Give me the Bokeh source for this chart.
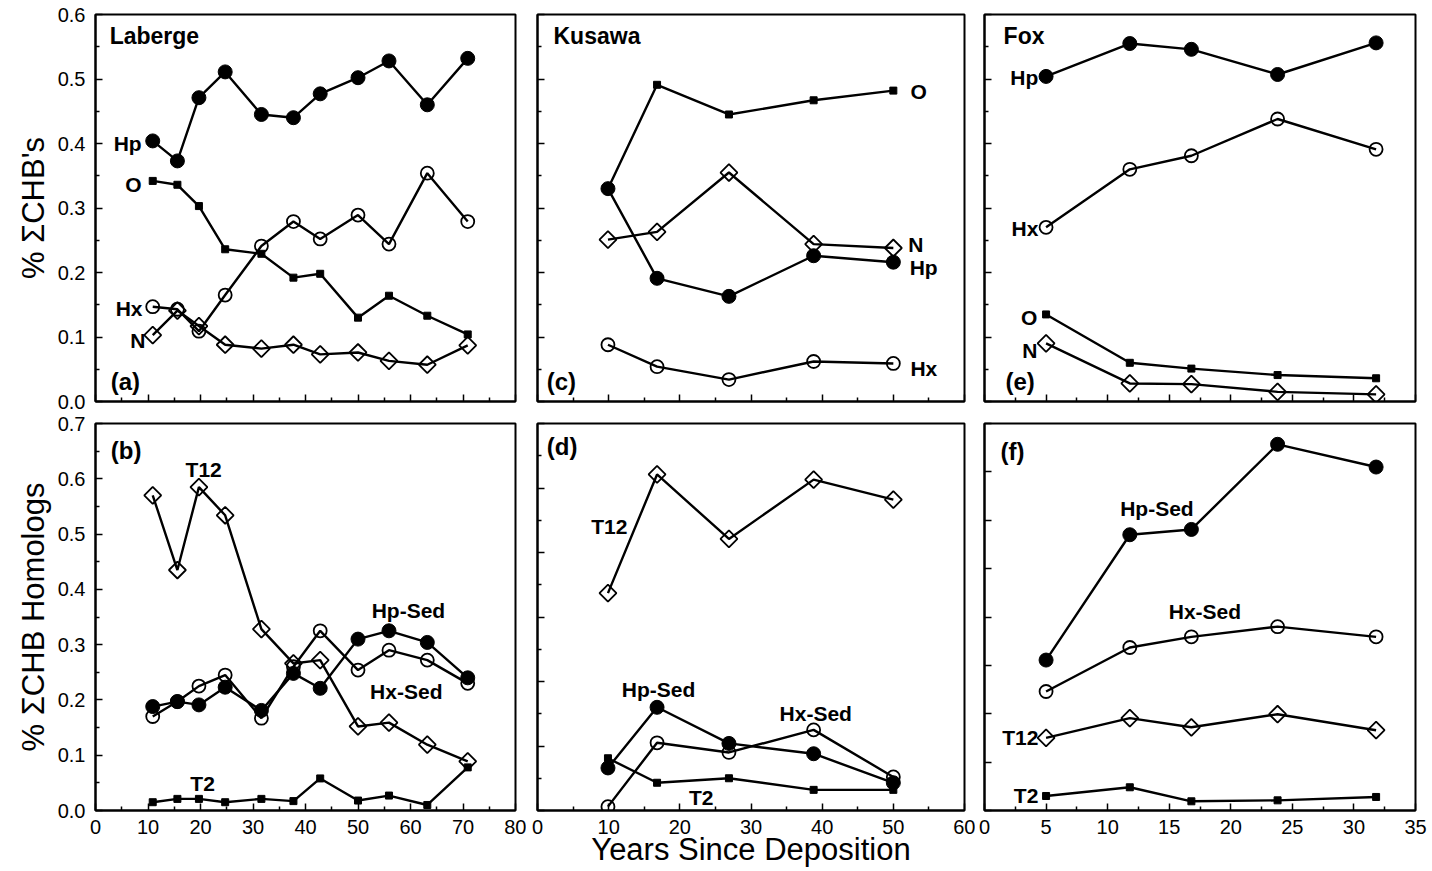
import numpy as np
from bokeh.plotting import figure
from bokeh.layouts import column, row
from bokeh.models import Label, FixedTicker, Range1d, PrintfTickFormatter
from bokeh.embed import file_html
from bokeh.resources import INLINE

# ---------------- data ----------------
# Laberge
lab_years = [10.9, 15.6, 19.7, 24.7, 31.6, 37.7, 42.8, 50.0, 55.9, 63.2, 70.9]
lab_Hp = [0.404, 0.373, 0.471, 0.511, 0.445, 0.440, 0.477, 0.502, 0.528, 0.460, 0.532]
lab_O = [0.342, 0.336, 0.303, 0.236, 0.229, 0.192, 0.198, 0.130, 0.164, 0.133, 0.104]
lab_Hx = [0.147, 0.143, 0.109, 0.165, 0.241, 0.279, 0.252, 0.289, 0.244, 0.354, 0.279]
lab_N = [0.103, 0.141, 0.117, 0.088, 0.082, 0.088, 0.073, 0.076, 0.063, 0.057, 0.087]
lab_T12 = [0.570, 0.435, 0.585, 0.534, 0.328, 0.266, 0.272, 0.152, 0.159, 0.119, 0.089]
lab_HpSed = [0.188, 0.197, 0.191, 0.223, 0.181, 0.248, 0.221, 0.310, 0.325, 0.304, 0.240]
lab_HxSed = [0.170, 0.197, 0.225, 0.245, 0.167, 0.260, 0.325, 0.254, 0.290, 0.272, 0.230]
lab_T2 = [0.015, 0.021, 0.021, 0.015, 0.021, 0.017, 0.058, 0.018, 0.027, 0.010, 0.078]

# Kusawa
kus_years = [9.9, 16.8, 26.9, 38.8, 50.0]
kus_O = [0.330, 0.491, 0.445, 0.467, 0.482]
kus_N = [0.251, 0.263, 0.355, 0.244, 0.238]
kus_Hp = [0.330, 0.191, 0.163, 0.226, 0.216]
kus_Hx = [0.088, 0.054, 0.034, 0.062, 0.059]
kus_T12 = [0.337, 0.521, 0.421, 0.513, 0.482]
kus_HpSed = [0.066, 0.160, 0.104, 0.088, 0.043]
kus_HxSed = [0.006, 0.105, 0.090, 0.125, 0.052]
kus_T2 = [0.081, 0.043, 0.050, 0.032, 0.032]

# Fox
fox_years = [5.0, 11.8, 16.8, 23.8, 31.8]
fox_Hp = [0.504, 0.555, 0.546, 0.507, 0.556]
fox_Hx = [0.270, 0.360, 0.381, 0.438, 0.391]
fox_O = [0.135, 0.060, 0.051, 0.041, 0.036]
fox_N = [0.090, 0.028, 0.027, 0.015, 0.011]
fox_HpSed = [0.311, 0.570, 0.581, 0.757, 0.710]
fox_HxSed = [0.246, 0.337, 0.359, 0.380, 0.359]
fox_T12 = [0.150, 0.191, 0.172, 0.199, 0.166]
fox_T2 = [0.030, 0.048, 0.019, 0.021, 0.028]

# tick positions
y_major_06 = [0.0, 0.1, 0.2, 0.3, 0.4, 0.5, 0.6]
y_minor_06 = [0.05, 0.15, 0.25, 0.35, 0.45, 0.55]
y_major_07 = [0.0, 0.1, 0.2, 0.3, 0.4, 0.5, 0.6, 0.7]
y_minor_07 = [0.05, 0.15, 0.25, 0.35, 0.45, 0.55, 0.65]
y_major_08 = [0.0, 0.1, 0.2, 0.3, 0.4, 0.5, 0.6, 0.7, 0.8]
y_minor_08 = []
x_major_80 = [0, 10, 20, 30, 40, 50, 60, 70, 80]
x_minor_80 = [5, 15, 25, 35, 45, 55, 65, 75]
x_major_60 = [0, 10, 20, 30, 40, 50, 60]
x_minor_60 = [5, 15, 25, 35, 45, 55]
x_major_35 = [0, 5, 10, 15, 20, 25, 30, 35]
x_minor_35 = [2.5, 7.5, 12.5, 17.5, 22.5, 27.5, 32.5]

FONT = "Liberation Sans"


def panel(w, h, xr, yr, borders, xt, yt, show_xlab, show_ylab, ylabel=None, xlabel=None):
    bl, br, bt, bb = borders
    p = figure(width=w, height=h, x_range=Range1d(*xr), y_range=Range1d(*yr),
               output_backend="svg", toolbar_location=None,
               min_border_left=bl, min_border_right=br,
               min_border_top=bt, min_border_bottom=bb)
    p.grid.visible = False
    p.outline_line_color = "black"
    p.outline_line_width = 2
    p.outline_line_alpha = 1.0
    p.background_fill_color = "white"
    p.border_fill_color = "white"
    xa = p.xaxis[0]
    ya = p.yaxis[0]
    xa.ticker = FixedTicker(ticks=xt[0], minor_ticks=xt[1])
    ya.ticker = FixedTicker(ticks=yt[0], minor_ticks=yt[1])
    xa.formatter = PrintfTickFormatter(format="%d")
    ya.formatter = PrintfTickFormatter(format="%.1f")
    for ax in (xa, ya):
        ax.major_tick_in = 7
        ax.major_tick_out = 0
        ax.minor_tick_in = 4
        ax.minor_tick_out = 0
        ax.axis_line_width = 2
        ax.axis_line_color = "black"
        ax.major_tick_line_width = 1.5
        ax.minor_tick_line_width = 1.5
        ax.major_tick_line_color = "black"
        ax.minor_tick_line_color = "black"
        ax.major_label_text_font = FONT
        ax.major_label_text_font_size = "20px"
        ax.major_label_text_color = "black"
    xa.major_label_standoff = 9
    ya.major_label_standoff = 10
    if not show_xlab:
        xa.major_label_text_font_size = "0px"
        xa.major_label_standoff = 0
    if not show_ylab:
        ya.major_label_text_font_size = "0px"
        ya.major_label_standoff = 0
    if ylabel:
        ya.axis_label = ylabel
        ya.axis_label_text_font = FONT
        ya.axis_label_text_font_size = "31px"
        ya.axis_label_text_font_style = "normal"
        ya.axis_label_text_color = "black"
        ya.axis_label_standoff = 4
    if xlabel is not None:
        xa.axis_label = xlabel
        xa.axis_label_text_font = FONT
        xa.axis_label_text_font_size = "31px"
        xa.axis_label_text_font_style = "normal"
        xa.axis_label_text_color = "black"
        xa.axis_label_standoff = -5
    return p


def series(p, x, y, kind):
    p.line(x, y, line_color="black", line_width=2.4)
    if kind == "fcircle":
        p.scatter(x, y, marker="circle", size=14, fill_color="black", line_color="black")
    elif kind == "ocircle":
        p.scatter(x, y, marker="circle", size=13, fill_color=None, line_color="black", line_width=1.8)
    elif kind == "square":
        p.scatter(x, y, marker="square", size=7, fill_color="black", line_color="black")
    elif kind == "diamond":
        p.scatter(x, y, marker="square", angle=np.pi / 4, size=12, fill_color=None,
                  line_color="black", line_width=1.8)


def txt(p, x, y, text, size=21, align="left", baseline="middle"):
    p.add_layout(Label(x=x, y=y, text=text, text_font=FONT, text_font_size=f"{size}px",
                       text_font_style="bold", text_color="black",
                       text_align=align, text_baseline=baseline))


# layout geometry
H1, H2 = 412, 459
W1, W2, W3 = 526, 449, 455
B1 = (14, 11)      # top, bottom borders row 1
B2 = (11, 61)      # top, bottom borders row 2
X80 = (x_major_80, x_minor_80)
X60 = (x_major_60, x_minor_60)
X35 = (x_major_35, x_minor_35)
Y06 = (y_major_06, y_minor_06)
Y07 = (y_major_07, y_minor_07)
Y08 = (y_major_08, y_minor_08)

# (a) Laberge
pa = panel(W1, H1, (0, 80), (0, 0.6), (95, 11) + B1, X80, Y06, False, True, "% ΣCHB's")
series(pa, lab_years, lab_Hp, "fcircle")
series(pa, lab_years, lab_O, "square")
series(pa, lab_years, lab_Hx, "ocircle")
series(pa, lab_years, lab_N, "diamond")
txt(pa, 2.7, 0.567, "Laberge", 23)
txt(pa, 8.8, 0.400, "Hp", 21, "right")
txt(pa, 8.8, 0.336, "O", 21, "right")
txt(pa, 8.95, 0.144, "Hx", 21, "right")
txt(pa, 9.5, 0.094, "N", 21, "right")
txt(pa, 2.9, 0.031, "(a)", 24)

# (c) Kusawa
pc = panel(W2, H1, (0, 60), (0, 0.6), (11, 11) + B1, X60, Y06, False, False)
series(pc, kus_years, kus_O, "square")
series(pc, kus_years, kus_N, "diamond")
series(pc, kus_years, kus_Hp, "fcircle")
series(pc, kus_years, kus_Hx, "ocircle")
txt(pc, 2.25, 0.567, "Kusawa", 23)
txt(pc, 52.4, 0.481, "O", 21)
txt(pc, 52.1, 0.244, "N", 21)
txt(pc, 52.3, 0.208, "Hp", 21)
txt(pc, 52.4, 0.051, "Hx", 21)
txt(pc, 1.3, 0.031, "(c)", 24)

# (e) Fox
pe = panel(W3, H1, (0, 35), (0, 0.6), (9, 15) + B1, X35, Y06, False, False)
series(pe, fox_years, fox_Hp, "fcircle")
series(pe, fox_years, fox_Hx, "ocircle")
series(pe, fox_years, fox_O, "square")
series(pe, fox_years, fox_N, "diamond")
txt(pe, 1.55, 0.567, "Fox", 23)
txt(pe, 4.37, 0.503, "Hp", 21, "right")
txt(pe, 4.37, 0.268, "Hx", 21, "right")
txt(pe, 4.3, 0.131, "O", 21, "right")
txt(pe, 4.3, 0.079, "N", 21, "right")
txt(pe, 1.7, 0.031, "(e)", 24)

# (b) Laberge homologs
pb = panel(W1, H2, (0, 80), (0, 0.7), (95, 11) + B2, X80, Y07, True, True,
           "% ΣCHB Homologs", " ")
series(pb, lab_years, lab_T12, "diamond")
series(pb, lab_years, lab_HxSed, "ocircle")
series(pb, lab_years, lab_HpSed, "fcircle")
series(pb, lab_years, lab_T2, "square")
txt(pb, 2.9, 0.651, "(b)", 24)
txt(pb, 20.6, 0.617, "T12", 21, "center")
txt(pb, 59.6, 0.362, "Hp-Sed", 21, "center")
txt(pb, 59.2, 0.216, "Hx-Sed", 21, "center")
txt(pb, 20.4, 0.049, "T2", 21, "center")

# (d) Kusawa homologs
pd_ = panel(W2, H2, (0, 60), (0, 0.6), (11, 11) + B2, X60, Y06, True, False,
            None, "Years Since Deposition")
series(pd_, kus_years, kus_T12, "diamond")
series(pd_, kus_years, kus_HxSed, "ocircle")
series(pd_, kus_years, kus_HpSed, "fcircle")
series(pd_, kus_years, kus_T2, "square")
txt(pd_, 1.3, 0.564, "(d)", 24)
txt(pd_, 10.1, 0.440, "T12", 21, "center")
txt(pd_, 17.0, 0.187, "Hp-Sed", 21, "center")
txt(pd_, 39.1, 0.151, "Hx-Sed", 21, "center")
txt(pd_, 23.0, 0.020, "T2", 21, "center")

# (f) Fox homologs
pf = panel(W3, H2, (0, 35), (0, 0.8), (9, 15) + B2, X35, Y08, True, False, None, " ")
series(pf, fox_years, fox_T12, "diamond")
series(pf, fox_years, fox_HxSed, "ocircle")
series(pf, fox_years, fox_HpSed, "fcircle")
series(pf, fox_years, fox_T2, "square")
txt(pf, 1.3, 0.742, "(f)", 24)
txt(pf, 14.0, 0.625, "Hp-Sed", 21, "center")
txt(pf, 17.9, 0.411, "Hx-Sed", 21, "center")
txt(pf, 4.37, 0.150, "T12", 21, "right")
txt(pf, 4.37, 0.031, "T2", 21, "right")

layout = column(row(pa, pc, pe), row(pb, pd_, pf))
open("out.html", "w").write(file_html(layout, INLINE))
